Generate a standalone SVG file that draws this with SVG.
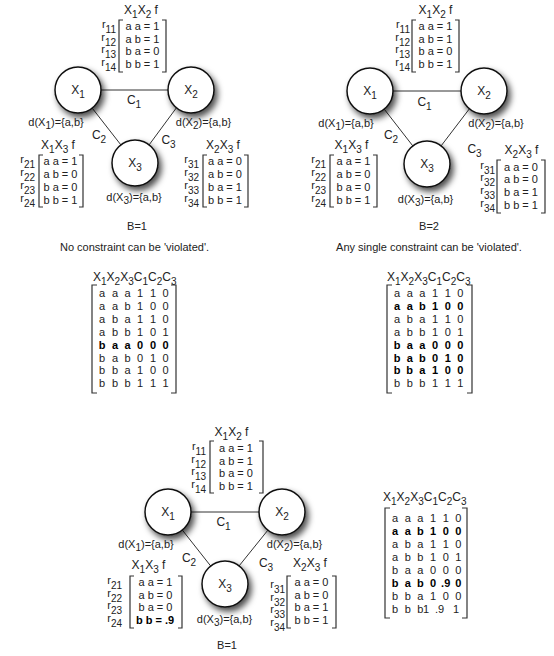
<svg xmlns="http://www.w3.org/2000/svg" width="554" height="656" viewBox="0 0 554 656">
<style>
text { font-family: "Liberation Sans", Arial, sans-serif; font-size: 11px; fill: #222; }
.h { font-size: 12px; }
.s { font-size: 10px; }
.m { text-anchor: middle; }
.e { text-anchor: end; }
.b { font-weight: bold; fill: #000; }
.br { fill: none; stroke: #333; stroke-width: 1.2; }
.ed { stroke: #333; stroke-width: 1; fill: none; }
.nd { fill: #fff; stroke: #111; stroke-width: 1.5; filter: url(#sh); }
</style>
<defs>
<filter id="sh" x="-60%" y="-60%" width="220%" height="220%">
<feGaussianBlur in="SourceAlpha" stdDeviation="3"/>
<feOffset dx="3" dy="4" result="b"/>
<feFlood flood-color="#000" flood-opacity="0.7"/>
<feComposite in2="b" operator="in"/>
<feMerge><feMergeNode/><feMergeNode in="SourceGraphic"/></feMerge>
</filter>
</defs>
<rect width="554" height="656" fill="#fff"/>

<!-- ===== Top-left panel ===== -->
<g id="tl-connectors">
<line class="ed" x1="101" y1="90" x2="168" y2="90"/>
<line class="ed" x1="92.2" y1="108.1" x2="120.9" y2="144.9"/>
<line class="ed" x1="177" y1="107" x2="149" y2="145"/>
<text class="h m" x="134" y="103.6">C<tspan class="s" dy="4">1</tspan></text>
<text class="h m" x="99" y="138.6">C<tspan class="s" dy="4">2</tspan></text>
<text class="h m" x="168.5" y="143.6">C<tspan class="s" dy="4">3</tspan></text>
</g>
<g id="tl-x1">
<circle class="nd" cx="78" cy="90" r="23"/>
<text class="h m" x="78" y="93.6">X<tspan class="s" dy="4">1</tspan></text>
<text class="m" x="56" y="126">d(X<tspan class="s" dy="3">1</tspan><tspan dy="-3">)={a,b}</tspan></text>
</g>
<g id="tl-x2">
<circle class="nd" cx="191" cy="90" r="23"/>
<text class="h m" x="191" y="93.6">X<tspan class="s" dy="4">2</tspan></text>
<text class="m" x="203.5" y="126">d(X<tspan class="s" dy="3">2</tspan><tspan dy="-3">)={a,b}</tspan></text>
</g>
<g id="tl-x3">
<circle class="nd" cx="135" cy="163" r="23"/>
<text class="h m" x="135" y="166.6">X<tspan class="s" dy="4">3</tspan></text>
<text class="m" x="134" y="201">d(X<tspan class="s" dy="3">3</tspan><tspan dy="-3">)={a,b}</tspan></text>
</g>
<g id="tl-c1">
<text class="h m" x="141" y="13.6">X<tspan class="s" dy="4">1</tspan><tspan dy="-4">X</tspan><tspan class="s" dy="4">2</tspan><tspan dy="-4"> f</tspan></text>
<path class="br" d="M123 20H119V72H123M162 20H166V72H162"/>
<text class="m" x="142.5" y="30">a a = 1</text>
<text class="m" x="142.5" y="42.7">a b = 1</text>
<text class="m" x="142.5" y="55.3">b a = 0</text>
<text class="m" x="142.5" y="68">b b = 1</text>
<text class="e" x="116" y="28">r<tspan class="s" dy="5">11</tspan></text>
<text class="e" x="116" y="40.7">r<tspan class="s" dy="5">12</tspan></text>
<text class="e" x="116" y="53.3">r<tspan class="s" dy="5">13</tspan></text>
<text class="e" x="116" y="66">r<tspan class="s" dy="5">14</tspan></text>
</g>
<g id="tl-c2">
<text class="h m" x="58" y="148.6">X<tspan class="s" dy="4">1</tspan><tspan dy="-4">X</tspan><tspan class="s" dy="4">3</tspan><tspan dy="-4"> f</tspan></text>
<path class="br" d="M43 155H39V207H43M79 155H83V207H79"/>
<text class="m" x="60.5" y="165">a a = 1</text>
<text class="m" x="60.5" y="178">a b = 0</text>
<text class="m" x="60.5" y="191">b a = 0</text>
<text class="m" x="60.5" y="204">b b = 1</text>
<text class="e" x="35" y="163">r<tspan class="s" dy="5">21</tspan></text>
<text class="e" x="35" y="176">r<tspan class="s" dy="5">22</tspan></text>
<text class="e" x="35" y="189">r<tspan class="s" dy="5">23</tspan></text>
<text class="e" x="35" y="202">r<tspan class="s" dy="5">24</tspan></text>
</g>
<g id="tl-c3">
<text class="h m" x="223" y="148.6">X<tspan class="s" dy="4">2</tspan><tspan dy="-4">X</tspan><tspan class="s" dy="4">3</tspan><tspan dy="-4"> f</tspan></text>
<path class="br" d="M207 155H203V207H207M244 155H248V207H244"/>
<text class="m" x="225" y="165">a a = 0</text>
<text class="m" x="225" y="178">a b = 0</text>
<text class="m" x="225" y="191">b a = 1</text>
<text class="m" x="225" y="204">b b = 1</text>
<text class="e" x="199" y="163">r<tspan class="s" dy="5">31</tspan></text>
<text class="e" x="199" y="176">r<tspan class="s" dy="5">32</tspan></text>
<text class="e" x="199" y="189">r<tspan class="s" dy="5">33</tspan></text>
<text class="e" x="199" y="202">r<tspan class="s" dy="5">34</tspan></text>
</g>
<text class="m" x="137" y="230">B=1</text>
<text class="m" x="134.5" y="251">No constraint can be 'violated'.</text>
<g id="tl-table">
<text class="h" x="93" y="280.6">X<tspan class="s" dy="4">1</tspan><tspan dy="-4">X</tspan><tspan class="s" dy="4">2</tspan><tspan dy="-4">X</tspan><tspan class="s" dy="4">3</tspan><tspan dy="-4">C</tspan><tspan class="s" dy="4">1</tspan><tspan dy="-4">C</tspan><tspan class="s" dy="4">2</tspan><tspan dy="-4">C</tspan><tspan class="s" dy="4">3</tspan></text>
<path class="br" d="M97 285H92V393H97M171 285H176V393H171"/>
<text class="m" x="102 115 127.5 140 153 165.5" y="297">aaa110</text>
<text class="m" x="102 115 127.5 140 153 165.5" y="309.9">aab100</text>
<text class="m" x="102 115 127.5 140 153 165.5" y="322.8">aba110</text>
<text class="m" x="102 115 127.5 140 153 165.5" y="335.7">abb101</text>
<text class="m b" x="102 115 127.5 140 153 165.5" y="348.6">baa000</text>
<text class="m" x="102 115 127.5 140 153 165.5" y="361.5">bab010</text>
<text class="m" x="102 115 127.5 140 153 165.5" y="374.4">bba100</text>
<text class="m" x="102 115 127.5 140 153 165.5" y="387.3">bbb111</text>
</g>

<!-- ===== Top-right panel ===== -->
<g id="tr-connectors">
<line class="ed" x1="393" y1="91" x2="461" y2="91"/>
<line class="ed" x1="384.2" y1="109.1" x2="412.8" y2="145.9"/>
<line class="ed" x1="470" y1="108" x2="441" y2="146"/>
<text class="h m" x="424.5" y="105.6">C<tspan class="s" dy="4">1</tspan></text>
<text class="h m" x="391" y="138.6">C<tspan class="s" dy="4">2</tspan></text>
<text class="h m" x="474.5" y="152.6">C<tspan class="s" dy="4">3</tspan></text>
</g>
<g id="tr-x1">
<circle class="nd" cx="370" cy="91" r="23"/>
<text class="h m" x="370" y="94.6">X<tspan class="s" dy="4">1</tspan></text>
<text class="m" x="346" y="127">d(X<tspan class="s" dy="3">1</tspan><tspan dy="-3">)={a,b}</tspan></text>
</g>
<g id="tr-x2">
<circle class="nd" cx="484" cy="91" r="23"/>
<text class="h m" x="484" y="94.6">X<tspan class="s" dy="4">2</tspan></text>
<text class="m" x="496" y="127">d(X<tspan class="s" dy="3">2</tspan><tspan dy="-3">)={a,b}</tspan></text>
</g>
<g id="tr-x3">
<circle class="nd" cx="427" cy="164" r="23"/>
<text class="h m" x="427" y="167.6">X<tspan class="s" dy="4">3</tspan></text>
<text class="m" x="425.5" y="203">d(X<tspan class="s" dy="3">3</tspan><tspan dy="-3">)={a,b}</tspan></text>
</g>
<g id="tr-c1">
<text class="h m" x="435.5" y="13.6">X<tspan class="s" dy="4">1</tspan><tspan dy="-4">X</tspan><tspan class="s" dy="4">2</tspan><tspan dy="-4"> f</tspan></text>
<path class="br" d="M416 20H412V72H416M455 20H459V72H455"/>
<text class="m" x="435.5" y="30">a a = 1</text>
<text class="m" x="435.5" y="42.7">a b = 1</text>
<text class="m" x="435.5" y="55.3">b a = 0</text>
<text class="m" x="435.5" y="68">b b = 1</text>
<text class="e" x="410" y="28">r<tspan class="s" dy="5">11</tspan></text>
<text class="e" x="410" y="40.7">r<tspan class="s" dy="5">12</tspan></text>
<text class="e" x="410" y="53.3">r<tspan class="s" dy="5">13</tspan></text>
<text class="e" x="410" y="66">r<tspan class="s" dy="5">14</tspan></text>
</g>
<g id="tr-c2">
<text class="h m" x="351.5" y="148.6">X<tspan class="s" dy="4">1</tspan><tspan dy="-4">X</tspan><tspan class="s" dy="4">3</tspan><tspan dy="-4"> f</tspan></text>
<path class="br" d="M334 155H330V207H334M373 155H377V207H373"/>
<text class="m" x="353.5" y="165">a a = 1</text>
<text class="m" x="353.5" y="178">a b = 0</text>
<text class="m" x="353.5" y="191">b a = 0</text>
<text class="m" x="353.5" y="204">b b = 1</text>
<text class="e" x="326" y="163">r<tspan class="s" dy="5">21</tspan></text>
<text class="e" x="326" y="176">r<tspan class="s" dy="5">22</tspan></text>
<text class="e" x="326" y="189">r<tspan class="s" dy="5">23</tspan></text>
<text class="e" x="326" y="202">r<tspan class="s" dy="5">24</tspan></text>
</g>
<g id="tr-c3">
<text class="h m" x="521.5" y="153.6">X<tspan class="s" dy="4">2</tspan><tspan dy="-4">X</tspan><tspan class="s" dy="4">3</tspan><tspan dy="-4"> f</tspan></text>
<path class="br" d="M501 160H497V213H501M541 160H545V213H541"/>
<text class="m" x="521" y="170.5">a a = 0</text>
<text class="m" x="521" y="183.3">a b = 0</text>
<text class="m" x="521" y="196.1">b a = 1</text>
<text class="m" x="521" y="209">b b = 1</text>
<text class="e" x="495" y="168.5">r<tspan class="s" dy="5">31</tspan></text>
<text class="e" x="495" y="181.3">r<tspan class="s" dy="5">32</tspan></text>
<text class="e" x="495" y="194.1">r<tspan class="s" dy="5">33</tspan></text>
<text class="e" x="495" y="207">r<tspan class="s" dy="5">34</tspan></text>
</g>
<text class="m" x="429" y="230">B=2</text>
<text class="m" x="429" y="251">Any single constraint can be 'violated'.</text>
<g id="tr-table">
<text class="h" x="387" y="280.6">X<tspan class="s" dy="4">1</tspan><tspan dy="-4">X</tspan><tspan class="s" dy="4">2</tspan><tspan dy="-4">X</tspan><tspan class="s" dy="4">3</tspan><tspan dy="-4">C</tspan><tspan class="s" dy="4">1</tspan><tspan dy="-4">C</tspan><tspan class="s" dy="4">2</tspan><tspan dy="-4">C</tspan><tspan class="s" dy="4">3</tspan></text>
<path class="br" d="M392 285H387V393H392M467 285H472V393H467"/>
<text class="m" x="397 409.7 422.4 435 447.7 460.4" y="297">aaa110</text>
<text class="m b" x="397 409.7 422.4 435 447.7 460.4" y="309.9">aab100</text>
<text class="m" x="397 409.7 422.4 435 447.7 460.4" y="322.8">aba110</text>
<text class="m" x="397 409.7 422.4 435 447.7 460.4" y="335.7">abb101</text>
<text class="m b" x="397 409.7 422.4 435 447.7 460.4" y="348.6">baa000</text>
<text class="m b" x="397 409.7 422.4 435 447.7 460.4" y="361.5">bab010</text>
<text class="m b" x="397 409.7 422.4 435 447.7 460.4" y="374.4">bba100</text>
<text class="m" x="397 409.7 422.4 435 447.7 460.4" y="387.3">bbb111</text>
</g>

<!-- ===== Bottom panel ===== -->
<g id="bt-connectors">
<line class="ed" x1="191" y1="512" x2="259" y2="512"/>
<line class="ed" x1="182.3" y1="530" x2="210.7" y2="566"/>
<line class="ed" x1="268" y1="530" x2="239" y2="566"/>
<text class="h m" x="223.5" y="525.6">C<tspan class="s" dy="4">1</tspan></text>
<text class="h m" x="189" y="561.6">C<tspan class="s" dy="4">2</tspan></text>
<text class="h m" x="266" y="566.6">C<tspan class="s" dy="4">3</tspan></text>
</g>
<g id="bt-x1">
<circle class="nd" cx="168" cy="512" r="23"/>
<text class="h m" x="168" y="515.6">X<tspan class="s" dy="4">1</tspan></text>
<text class="m" x="146" y="548">d(X<tspan class="s" dy="3">1</tspan><tspan dy="-3">)={a,b}</tspan></text>
</g>
<g id="bt-x2">
<circle class="nd" cx="282" cy="512" r="23"/>
<text class="h m" x="282" y="515.6">X<tspan class="s" dy="4">2</tspan></text>
<text class="m" x="294.5" y="548">d(X<tspan class="s" dy="3">2</tspan><tspan dy="-3">)={a,b}</tspan></text>
</g>
<g id="bt-x3">
<circle class="nd" cx="225" cy="584" r="23"/>
<text class="h m" x="225" y="587.6">X<tspan class="s" dy="4">3</tspan></text>
<text class="m" x="224.5" y="623">d(X<tspan class="s" dy="3">3</tspan><tspan dy="-3">)={a,b}</tspan></text>
</g>
<g id="bt-c1">
<text class="h m" x="231.5" y="435.6">X<tspan class="s" dy="4">1</tspan><tspan dy="-4">X</tspan><tspan class="s" dy="4">2</tspan><tspan dy="-4"> f</tspan></text>
<path class="br" d="M214 441H210V493H214M259 441H263V493H259"/>
<text class="m" x="236" y="452">a a = 1</text>
<text class="m" x="236" y="464.7">a b = 1</text>
<text class="m" x="236" y="477.3">b a = 0</text>
<text class="m" x="236" y="490">b b = 1</text>
<text class="e" x="206" y="450">r<tspan class="s" dy="5">11</tspan></text>
<text class="e" x="206" y="462.7">r<tspan class="s" dy="5">12</tspan></text>
<text class="e" x="206" y="475.3">r<tspan class="s" dy="5">13</tspan></text>
<text class="e" x="206" y="488">r<tspan class="s" dy="5">14</tspan></text>
</g>
<g id="bt-c2">
<text class="h m" x="148.5" y="568.6">X<tspan class="s" dy="4">1</tspan><tspan dy="-4">X</tspan><tspan class="s" dy="4">3</tspan><tspan dy="-4"> f</tspan></text>
<path class="br" d="M134 576H130V628H134M178 576H182V628H178"/>
<text class="m" x="155.5" y="586">a a = 1</text>
<text class="m" x="155.5" y="598.7">a b = 0</text>
<text class="m" x="155.5" y="611.3">b a = 0</text>
<text class="m b" x="155" y="624">b b = .9</text>
<text class="e" x="122" y="584">r<tspan class="s" dy="5">21</tspan></text>
<text class="e" x="122" y="596.7">r<tspan class="s" dy="5">22</tspan></text>
<text class="e" x="122" y="609.3">r<tspan class="s" dy="5">23</tspan></text>
<text class="e" x="122" y="622">r<tspan class="s" dy="5">24</tspan></text>
</g>
<g id="bt-c3">
<text class="h m" x="310" y="566.6">X<tspan class="s" dy="4">2</tspan><tspan dy="-4">X</tspan><tspan class="s" dy="4">3</tspan><tspan dy="-4"> f</tspan></text>
<path class="br" d="M291 576H287V628H291M332 576H336V628H332"/>
<text class="m" x="311.5" y="586">a a = 0</text>
<text class="m" x="311.5" y="598.7">a b = 0</text>
<text class="m" x="311.5" y="611.3">b a = 1</text>
<text class="m" x="311.5" y="624">b b = 1</text>
<text class="e" x="285" y="588">r<tspan class="s" dy="5">31</tspan></text>
<text class="e" x="285" y="600.7">r<tspan class="s" dy="5">32</tspan></text>
<text class="e" x="285" y="613.3">r<tspan class="s" dy="5">33</tspan></text>
<text class="e" x="285" y="626">r<tspan class="s" dy="5">34</tspan></text>
</g>
<text class="m" x="227" y="649">B=1</text>
<g id="br-table">
<text class="h" x="383" y="500.6">X<tspan class="s" dy="4">1</tspan><tspan dy="-4">X</tspan><tspan class="s" dy="4">2</tspan><tspan dy="-4">X</tspan><tspan class="s" dy="4">3</tspan><tspan dy="-4">C</tspan><tspan class="s" dy="4">1</tspan><tspan dy="-4">C</tspan><tspan class="s" dy="4">2</tspan><tspan dy="-4">C</tspan><tspan class="s" dy="4">3</tspan></text>
<path class="br" d="M390 508H385V618H390M462 508H467V618H462"/>
<text class="m" x="395 407.7 420.4 433 445.7 458.4" y="522">aaa110</text>
<text class="m b" x="395 407.7 420.4 433 445.7 458.4" y="535">aab100</text>
<text class="m" x="395 407.7 420.4 433 445.7 458.4" y="548">aba110</text>
<text class="m" x="395 407.7 420.4 433 445.7 458.4" y="561">abb101</text>
<text class="m" x="395 407.7 420.4 433 445.7 458.4" y="574">baa000</text>
<text class="m b" x="395 407.7 420.4 433 442.6 447.2 458.4" y="587">bab0.90</text>
<text class="m" x="395 407.7 420.4 433 445.7 458.4" y="600">bba100</text>
<text class="m" x="395 407.7 420.4 426 436.5 441 456" y="613">bbb1.91</text>
</g>
</svg>
